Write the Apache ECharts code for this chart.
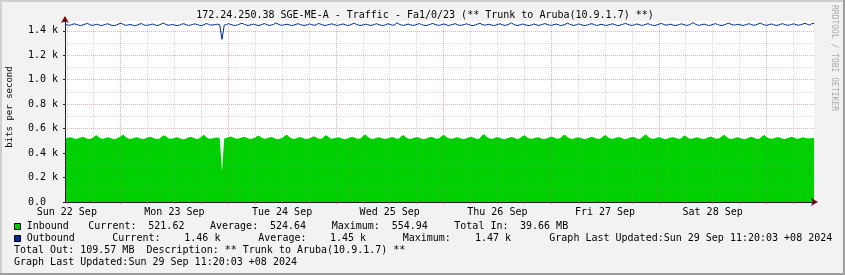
<!DOCTYPE html>
<html><head><meta charset="utf-8">
<script src="https://cdn.jsdelivr.net/npm/echarts@6/dist/echarts.min.js"></script>
<style>html,body{margin:0;padding:0;background:#F2F2F2}#c{width:845px;height:275px}</style>
</head><body><div id="c"></div>
<script>
// time is in hours since Sun 22 Sep 00:00 (+08)
const startHour = 11.6;
const stepHour = 0.5;

const inbound = [
520,524,530,527,519,516,521,528,533,526,
518,515,522,536,548,531,520,517,523,529,
525,518,514,520,527,540,552,534,521,516,
519,526,530,524,517,515,521,529,534,527,
520,516,518,531,545,538,522,517,520,526,
529,523,516,514,520,527,533,528,519,516,
522,538,549,530,520,517,521,525,528,523,
250,
519,524,531,536,527,520,517,522,529,533,
526,518,515,521,530,544,536,523,518,520,
527,532,525,517,514,519,526,541,550,532,
521,516,520,528,531,524,518,515,522,529,
537,528,519,517,523,546,539,524,518,521,
526,530,523,516,514,520,528,534,527,519,
517,522,542,551,533,521,516,519,525,529,
524,517,515,521,527,532,526,518,520,538,
547,530,520,516,522,528,531,525,518,514,
519,526,533,529,521,517,523,540,549,531,
522,517,519,525,530,524,516,515,521,528,
535,527,519,516,522,545,553,534,521,517,
520,527,531,523,517,514,520,526,532,528,
520,516,523,539,546,530,520,517,521,526,
530,524,516,515,522,529,536,527,519,517,
524,543,550,532,521,516,519,525,529,523,
517,514,521,527,533,526,519,516,522,537,
548,531,520,517,521,527,532,525,518,515,
520,528,534,529,520,516,523,541,552,533,
521,517,520,526,531,524,517,514,521,527,
532,526,519,516,524,544,537,522,517,520,
526,530,523,516,515,521,529,535,527,519,
517,523,540,549,531,520,516,520,526,530,
524,517,514,520,527,533,528,519,516,522,
539,547,530,520,517,521,526,531,525,518,
515,521,528,534,527,520,517,524,530,526,
522,519,524,521
];

const outbound = [
1452,1448,1445,1450,1457,1453,1446,1443,1448,1455,
1460,1451,1444,1447,1453,1449,1443,1446,1452,1458,
1450,1444,1442,1448,1456,1462,1452,1445,1447,1451,
1447,1442,1445,1453,1459,1450,1444,1446,1450,1455,
1449,1443,1447,1456,1463,1451,1445,1448,1452,1446,
1442,1446,1454,1458,1449,1444,1447,1452,1457,1450,
1445,1443,1450,1460,1453,1446,1448,1451,1454,1449,
1330,
1446,1452,1458,1451,1445,1443,1449,1456,1461,1452,
1446,1444,1450,1455,1449,1443,1446,1453,1459,1450,
1444,1447,1452,1464,1455,1447,1445,1450,1454,1448,
1443,1446,1453,1458,1451,1445,1444,1449,1456,1450,
1445,1448,1460,1454,1447,1443,1448,1452,1457,1451,
1444,1446,1451,1456,1449,1443,1447,1455,1462,1452,
1446,1444,1449,1454,1450,1444,1446,1452,1458,1450,
1445,1443,1450,1457,1452,1446,1448,1465,1454,1447,
1444,1449,1455,1450,1444,1446,1452,1459,1451,1445,
1443,1448,1454,1460,1452,1446,1445,1450,1456,1449,
1443,1447,1453,1458,1450,1444,1446,1451,1457,1451,
1445,1442,1448,1455,1461,1452,1446,1449,1453,1448,
1443,1446,1452,1457,1450,1444,1447,1454,1466,1453,
1446,1444,1449,1455,1451,1445,1443,1448,1456,1450,
1444,1447,1453,1459,1452,1446,1445,1450,1455,1449,
1443,1446,1452,1463,1454,1447,1444,1449,1456,1451,
1445,1443,1448,1454,1458,1450,1444,1447,1453,1449,
1444,1446,1451,1457,1452,1445,1443,1449,1455,1461,
1452,1446,1444,1450,1456,1450,1444,1447,1453,1458,
1451,1445,1443,1448,1455,1460,1452,1446,1449,1454,
1448,1443,1446,1452,1457,1450,1444,1447,1454,1467,
1455,1447,1445,1450,1455,1449,1443,1446,1452,1459,
1451,1445,1444,1449,1456,1462,1453,1447,1448,1453,
1449,1444,1446,1452,1458,1451,1445,1448,1455,1464,
1454,1447,1445,1450,1456,1450,1444,1446,1453,1458,
1451,1445,1447,1452,1457,1450,1446,1449,1455,1461,
1453,1447,1458,1460
];

const dayLabels = ['Sun 22 Sep','Mon 23 Sep','Tue 24 Sep','Wed 25 Sep','Thu 26 Sep','Fri 27 Sep','Sat 28 Sep'];
const dayLabelHours = [12,36,60,84,108,132,156];
const xMajorGrid = [24,48,72,96,120,144,168];
const xMinorGrid = [12,18,30,36,42,54,60,66,78,84,90,102,108,114,126,132,138,150,156,162,174];
const yMajorGrid = [200,400,600,800,1000,1200,1400];
const yMinorGrid = [100,300,500,700,900,1100,1300];
const xMin = 11.6, xMax = 178.6, yMax = 1480;

const titleText = '172.24.250.38 SGE-ME-A - Traffic - Fa1/0/23 (** Trunk to Aruba(10.9.1.7) **)';

const toPairs = arr => arr.map((v, i) => [startHour + i * stepHour, v]);

const FONT = 'DejaVu Sans Mono';
const MAJ = 'rgba(222,79,79,0.45)';
const MIN = 'rgba(143,143,143,0.33)';

const gridMarks = [].concat(
  xMinorGrid.map(h => ({xAxis: h, lineStyle: {color: MIN, type: [1,1], width: 1}})),
  xMajorGrid.map(h => ({xAxis: h, lineStyle: {color: MAJ, type: [1,1], width: 1}})),
  yMinorGrid.map(v => ({yAxis: v, lineStyle: {color: MIN, type: [1,1], width: 1}})),
  yMajorGrid.map(v => ({yAxis: v, lineStyle: {color: MAJ, type: [1,1], width: 1}}))
);

function txt(x, y, s, extra) {
  return {type: 'text', x: x, y: y, silent: true,
    style: Object.assign({text: s, fill: '#000', font: '10px "' + FONT + '"', textVerticalAlign: 'middle'}, extra || {})};
}

const chart = echarts.init(document.getElementById('c'), null, {renderer: 'canvas'});
chart.setOption({
  animation: false,
  backgroundColor: '#F2F2F2',
  grid: {left: 65, right: 31, top: 21, bottom: 73, show: true, backgroundColor: '#FFFFFF', borderWidth: 0},
  xAxis: [{
    type: 'value', min: xMin, max: xMax, z: 4,
    axisLine: {show: true, lineStyle: {color: '#212121', width: 1}},
    axisTick: {show: true, customValues: xMajorGrid.concat(xMinorGrid), length: 2, lineStyle: {color: 'rgba(222,79,79,0.6)'}},
    axisLabel: {customValues: dayLabelHours, margin: 5, color: '#000', fontFamily: FONT, fontSize: 10,
      formatter: v => dayLabels[dayLabelHours.indexOf(Math.round(v))] || ''},
    splitLine: {show: false}
  }, {
    type: 'value', min: xMin, max: xMax, position: 'bottom', z: 3,
    axisLine: {show: true, symbol: ['none', 'arrow'], symbolSize: [6, 7], symbolOffset: [0, 4], lineStyle: {color: '#800000'}},
    axisTick: {show: false}, axisLabel: {show: false}, splitLine: {show: false}
  }],
  yAxis: [{
    type: 'value', min: 0, max: yMax, interval: 200, z: 4,
    axisLine: {show: true, lineStyle: {color: '#212121', width: 1}},
    axisTick: {show: true, length: 2, lineStyle: {color: '#212121'}},
    axisLabel: {margin: 7, color: '#000', fontFamily: FONT, fontSize: 10,
      formatter: v => (v % 200 !== 0) ? '' : (v === 0 ? '0.0  ' : (v / 1000).toFixed(1) + ' k')},
    splitLine: {show: false}
  }, {
    type: 'value', min: 0, max: yMax, position: 'left', z: 3,
    axisLine: {show: true, symbol: ['none', 'arrow'], symbolSize: [6, 7], symbolOffset: [0, 5], lineStyle: {color: '#800000'}},
    axisTick: {show: false}, axisLabel: {show: false}, splitLine: {show: false}
  }],
  series: [{
    name: 'Inbound', type: 'line', data: toPairs(inbound), symbol: 'none', z: 2,
    lineStyle: {width: 0, color: '#00CF00'}, areaStyle: {color: '#00CF00', opacity: 1},
    itemStyle: {color: '#00CF00'},
    markLine: {silent: true, symbol: 'none', label: {show: false}, animation: false, data: gridMarks}
  }, {
    name: 'Outbound', type: 'line', data: toPairs(outbound), symbol: 'none', z: 6,
    lineStyle: {width: 1, color: '#002A97'}, itemStyle: {color: '#002A97'}
  }],
  graphic: [
    {type: 'rect', shape: {x: 0, y: 0, width: 845, height: 2}, style: {fill: '#CFCFCF'}, silent: true},
    {type: 'rect', shape: {x: 0, y: 0, width: 2, height: 275}, style: {fill: '#CFCFCF'}, silent: true},
    {type: 'rect', shape: {x: 0, y: 273, width: 845, height: 2}, style: {fill: '#9E9E9E'}, silent: true},
    {type: 'rect', shape: {x: 843, y: 0, width: 2, height: 275}, style: {fill: '#9E9E9E'}, silent: true},
    txt(425, 15.5, titleText, {textAlign: 'center'}),
    {type: 'text', x: 10, y: 107, rotation: Math.PI / 2, silent: true,
      style: {text: 'bits per second', fill: '#000', font: '9px "' + FONT + '"', textAlign: 'center', textVerticalAlign: 'middle'}},
    {type: 'text', x: 834, y: 5, rotation: -Math.PI / 2, silent: true,
      style: {text: 'RRDTOOL / TOBI OETIKER', fill: '#ABABAB', font: '8px "' + FONT + '"', textAlign: 'left', textVerticalAlign: 'middle'}},
    {type: 'rect', shape: {x: 14.5, y: 223.5, width: 6, height: 6}, style: {fill: '#00CF00', stroke: '#000', lineWidth: 1}, silent: true},
    {type: 'rect', shape: {x: 14.5, y: 235.5, width: 6, height: 6}, style: {fill: '#002A97', stroke: '#000', lineWidth: 1}, silent: true},
    txt(26.7, 226.7, 'Inbound'),
    txt(88.3, 226.7, 'Current:'),
    txt(148.3, 226.7, '521.62'),
    txt(210, 226.7, 'Average:'),
    txt(270, 226.7, '524.64'),
    txt(331.7, 226.7, 'Maximum:'),
    txt(391.7, 226.7, '554.94'),
    txt(454.3, 226.7, 'Total In:'),
    txt(520, 226.7, '39.66 MB'),
    txt(26.7, 238.7, 'Outbound'),
    txt(112.3, 238.7, 'Current:'),
    txt(184.3, 238.7, '1.46 k'),
    txt(258.3, 238.7, 'Average:'),
    txt(330, 238.7, '1.45 k'),
    txt(402.7, 238.7, 'Maximum:'),
    txt(475, 238.7, '1.47 k'),
    txt(549.3, 238.7, 'Graph Last Updated:Sun 29 Sep 11:20:03 +08 2024'),
    txt(14, 250.7, 'Total Out: 109.57 MB  Description: ** Trunk to Aruba(10.9.1.7) **'),
    txt(14, 262.3, 'Graph Last Updated:Sun 29 Sep 11:20:03 +08 2024')
  ]
});
</script></body></html>
